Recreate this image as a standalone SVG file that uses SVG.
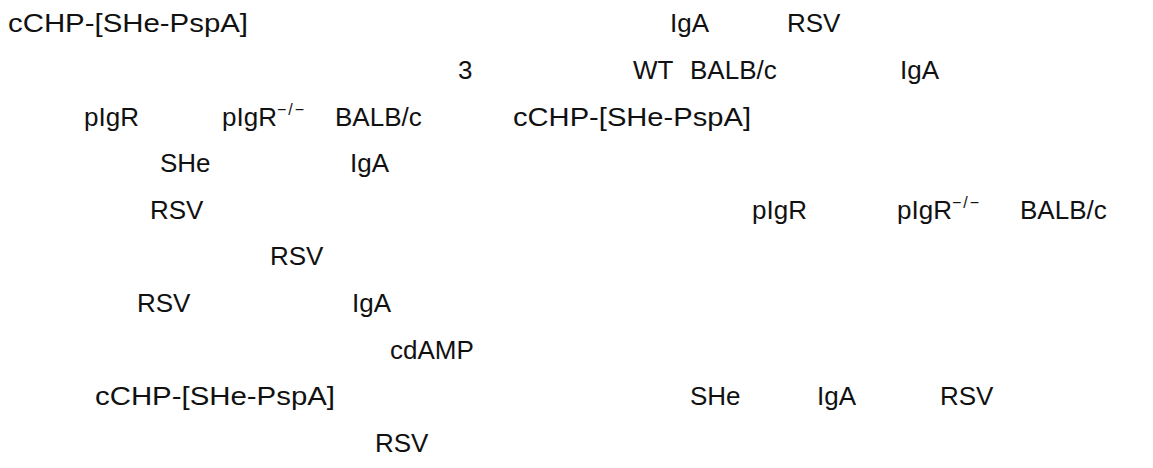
<svg xmlns="http://www.w3.org/2000/svg" width="1153" height="468" viewBox="0 0 1153 468">
<style>
text{font-family:"Liberation Sans",Arial,sans-serif;font-size:26px;fill:#111}
.sup{font-size:16px;letter-spacing:2px}
</style>
<rect width="1153" height="468" fill="#fff"/>
<g id="line1">
<text x="8" y="32" textLength="240" lengthAdjust="spacingAndGlyphs">cCHP-[SHe-PspA]</text>
<text x="670" y="32">IgA</text>
<text x="787" y="32">RSV</text>
</g>
<g id="line2">
<text x="458" y="79">3</text>
<text x="633" y="79">WT</text>
<text x="690" y="79">BALB/c</text>
<text x="900" y="79">IgA</text>
</g>
<g id="line3">
<text x="84" y="126">pIgR</text>
<text x="222" y="126">pIgR<tspan class="sup" dy="-11">−/−</tspan></text>
<text x="335" y="126">BALB/c</text>
<text x="513" y="126" textLength="238" lengthAdjust="spacingAndGlyphs">cCHP-[SHe-PspA]</text>
</g>
<g id="line4">
<text x="160" y="172">SHe</text>
<text x="350" y="172">IgA</text>
</g>
<g id="line5">
<text x="150" y="219">RSV</text>
<text x="752" y="219">pIgR</text>
<text x="897" y="219">pIgR<tspan class="sup" dy="-11">−/−</tspan></text>
<text x="1020" y="219">BALB/c</text>
</g>
<g id="line6">
<text x="270" y="265">RSV</text>
</g>
<g id="line7">
<text x="137" y="312">RSV</text>
<text x="352" y="312">IgA</text>
</g>
<g id="line8">
<text x="390" y="359">cdAMP</text>
</g>
<g id="line9">
<text x="95" y="405" textLength="240" lengthAdjust="spacingAndGlyphs">cCHP-[SHe-PspA]</text>
<text x="690" y="405">SHe</text>
<text x="817" y="405">IgA</text>
<text x="940" y="405">RSV</text>
</g>
<g id="line10">
<text x="375" y="452">RSV</text>
</g>
</svg>
